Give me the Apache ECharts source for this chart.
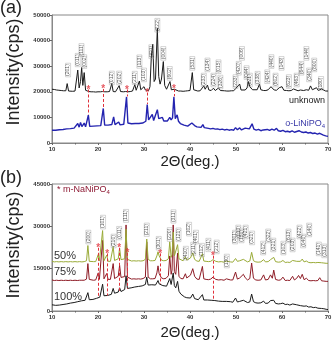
<!DOCTYPE html>
<html>
<head>
<meta charset="utf-8">
<script src="https://cdn.jsdelivr.net/npm/echarts@6/dist/echarts.min.js"></script>
<style>
  html, body { margin: 0; padding: 0; background: #fff; }
  #chart { width: 335px; height: 340px; }
</style>
</head>
<body>
<div id="chart"></div>
<script>
// ---- panel (a) data ----
var unknownPattern = [[10,21000],[10.5,20900],[11,20700],[11.5,20600],[12,20500],[12.5,20400],[13,20400],[13.3,23200],[13.6,20300],[14,20300],[14.5,20200],[15,20300],[15.3,21000],[15.6,28500],[15.9,21500],[16.2,24000],[16.45,29500],[16.7,22500],[17.0,27500],[17.3,20600],[17.7,20200],[18,20100],[18.5,20000],[19,20000],[19.5,19900],[20,20000],[20.5,20000],[21,20100],[21.5,20000],[22,20000],[22.5,20100],[23.0,23200],[23.3,20100],[23.8,20000],[24.2,20100],[24.6,22400],[24.9,20100],[25.5,20000],[26,20100],[26.5,20000],[27,20100],[27.5,20300],[28.0,22800],[28.3,20600],[28.7,21200],[29.0,24200],[29.3,20800],[29.7,20600],[30.0,22000],[30.3,20700],[30.7,20400],[31.0,20500],[31.3,22000],[31.6,34000],[31.9,38600],[32.2,24000],[32.5,25000],[32.9,44800],[33.2,26000],[33.5,23000],[33.8,25000],[34.2,31800],[34.5,22500],[34.9,21000],[35.3,21200],[35.65,24000],[35.95,20800],[36.3,20500],[36.6,21000],[37,20400],[37.5,20300],[38,20300],[38.5,20200],[39,20300],[39.5,20400],[40,20500],[40.5,27500],[40.8,20800],[41.2,20400],[41.7,20300],[42.2,20400],[42.6,20600],[43.0,22300],[43.3,21000],[43.8,22600],[44.1,20700],[44.6,20500],[45.1,21400],[45.5,20500],[46.2,21500],[46.6,20500],[47,20300],[47.5,20400],[48,20300],[48.5,20300],[49,20400],[49.5,20400],[49.9,21200],[50.2,20600],[50.8,23000],[51.1,20700],[51.5,20500],[52,20700],[52.4,21500],[52.7,24000],[53.0,22000],[53.3,22600],[53.6,20800],[54,20600],[54.6,20800],[55.1,23000],[55.4,20800],[56,20500],[56.5,20500],[57,20800],[57.6,22000],[57.9,21600],[58.3,20700],[58.8,20600],[59.4,21600],[59.7,21000],[60.0,22000],[60.4,20600],[61,20500],[61.5,20400],[62,20500],[62.5,21100],[62.9,20500],[63.5,20400],[64.0,20700],[64.3,21200],[64.7,20500],[65.3,20800],[65.8,20600],[66.2,22300],[66.6,20800],[67,20700],[67.5,21600],[67.9,20500],[68.6,21100],[69,20400],[69.5,20300],[70,20300]];

var liNiPO4Pattern = [[10,5000],[10.4,5300],[10.8,5000],[11.2,5400],[11.6,5200],[12,5500],[12.4,5300],[12.8,5700],[13.2,5500],[13.6,5900],[14,5600],[14.4,6000],[14.8,5800],[15.2,6200],[15.6,7600],[15.9,6200],[16.2,8000],[16.5,6400],[17.0,7800],[17.3,6300],[17.6,6500],[17.9,10900],[18.2,6500],[18.6,6300],[19,6600],[19.4,6400],[19.8,6700],[20.2,6500],[20.6,6800],[20.9,7500],[21.15,13500],[21.45,7000],[21.8,6700],[22.2,7000],[22.6,6800],[23.0,7200],[23.4,10200],[23.7,7200],[24.1,7000],[24.5,8200],[24.8,7100],[25.2,7000],[25.6,7300],[25.9,8000],[26.2,18000],[26.5,7800],[26.9,7300],[27.3,7500],[27.7,7200],[28.1,7600],[28.5,7300],[28.9,7600],[29.3,7400],[29.7,7800],[30.1,7600],[30.4,8500],[30.7,15000],[31.0,9000],[31.4,8500],[31.8,11200],[32.1,8800],[32.5,9300],[32.9,13000],[33.2,9500],[33.6,8800],[34.0,10000],[34.3,8600],[34.7,8300],[35.1,8600],[35.6,10000],[35.9,9000],[36.2,9800],[36.5,18000],[36.8,9500],[37.2,11000],[37.5,8500],[37.9,7600],[38.3,7300],[38.7,7000],[39.1,6800],[39.5,6600],[39.9,6800],[40.4,7800],[40.7,8000],[41.0,6800],[41.5,6300],[41.9,6000],[42.4,6100],[42.8,7200],[43.1,6000],[43.5,5800],[44,5700],[44.5,5500],[45,5700],[45.5,5400],[46,5500],[46.5,5200],[47,5400],[47.5,5100],[48,5300],[48.5,5000],[49,5200],[49.5,5000],[49.9,6000],[50.3,5200],[50.8,5900],[51.2,5100],[51.6,5400],[52.0,5800],[52.4,5200],[52.9,5500],[53.5,7500],[53.9,5400],[54.4,5000],[54.9,5300],[55.4,4800],[55.9,5100],[56.3,4700],[56.8,5300],[57.3,4900],[57.8,5400],[58.3,5000],[58.8,5700],[59.2,4800],[59.7,4600],[60.2,4900],[60.7,4400],[61.2,4600],[61.7,4300],[62.2,4700],[62.7,4200],[63.2,4500],[63.7,4800],[64.2,4300],[64.7,4100],[65.2,4300],[65.7,3900],[66.2,4100],[66.7,3700],[67.2,3900],[67.7,3500],[68.2,3800],[68.6,3300],[69,3100],[69.5,2800],[70,2600]];

var aHklX = [13.5,15.6,16.4,17.0,23.0,24.6,28.0,29.0,30.0,31.6,32.9,34.2,35.6,40.5,43.0,43.8,45.1,46.2,46.6,49.9,50.6,51.3,52.3,53.0,54.7,56.8,57.7,58.6,59.9,61.5,63.2,64.2,65.3,65.9,67.0,68.5];
var aHklY = [28500,32400,36300,31800,25400,25400,25400,31800,26600,35700,46000,35000,27200,31100,24600,30500,24600,29800,23800,24000,29200,35000,27500,24600,25300,25900,31800,24600,31100,24000,24600,29200,35000,26600,30500,23300];
var aHklText = ['(201)','(011)','(111)','(002)','(012)','(202)','(211)','(113)','(103)','(321)','(222)','(004)','(602)','(531)','(233)','(134)','(224)','(015)','(326)','(233)','(420)','(006)','(044)','(621)','(338)','(424)','(440)','(602)','(143)','(623)','(463)','(644)','(144)','(340)','(800)','(180)'];

var aStarX = [17.9,21.15,26.3,30.7,36.5];
var aStarY = [21800,22000,21800,20600,22000];
var aDashBottom = [11000,13600,18200,15200,18200];

// ---- panel (b) data ----
var pattern50 = [[10,17600],[10.5,17400],[11,17500],[11.5,17400],[12,17500],[12.5,17400],[13,17500],[13.5,17400],[14,17500],[14.5,17400],[15,17500],[15.5,17400],[16,17500],[16.5,17400],[17,17500],[17.5,17800],[17.8,23200],[18.1,17600],[18.5,17400],[19,17500],[19.5,17500],[19.8,17800],[20.05,20000],[20.3,17700],[20.7,17700],[21.0,28500],[21.3,17800],[21.6,17600],[21.9,19800],[22.2,17600],[22.7,17600],[23.0,17900],[23.3,22800],[23.6,17900],[24.0,17800],[24.4,18500],[24.7,22300],[25.0,18200],[25.4,17900],[25.8,18500],[26.1,29000],[26.4,18300],[26.8,17800],[27.3,17700],[27.8,17800],[28.3,17700],[28.8,17800],[29.3,17700],[29.8,17800],[30.3,18300],[30.6,25500],[30.9,18300],[31.4,17800],[31.9,17800],[32.4,17900],[32.8,19500],[33.05,21000],[33.3,19500],[33.5,20000],[33.8,18000],[34.3,17800],[34.8,17900],[35.3,18500],[35.6,24500],[35.9,19000],[36.1,20000],[36.35,28000],[36.6,19500],[36.9,18800],[37.3,23500],[37.6,18500],[38.0,17900],[38.5,17800],[39.0,19200],[39.3,18000],[39.7,17800],[40.1,18800],[40.6,20600],[41.0,18300],[41.5,17700],[42.0,17600],[42.4,17700],[42.7,20300],[43.0,17700],[43.5,17600],[44.0,17500],[44.5,17600],[45.0,18200],[45.3,18800],[45.6,17600],[46.2,17400],[46.8,17500],[47.4,17300],[47.9,17700],[48.3,17300],[48.8,17400],[49.3,17300],[49.9,18600],[50.3,17600],[50.8,17800],[51.2,17400],[51.6,18300],[52.0,17900],[52.5,17400],[53.0,17700],[53.4,20800],[53.8,17800],[54.3,17400],[54.8,17300],[55.4,17400],[56.0,18200],[56.4,17400],[57.0,17500],[57.5,18200],[57.9,17700],[58.2,19000],[58.6,17500],[59.2,17300],[59.7,17400],[60.2,17900],[60.7,17200],[61.2,17300],[61.7,17200],[62.3,17900],[62.7,17300],[63.2,17600],[63.6,18100],[64.0,17600],[64.4,18400],[64.8,17400],[65.3,17700],[65.8,17200],[66.3,17100],[66.8,17200],[67.3,17100],[67.8,17200],[68.2,17700],[68.6,17100],[69.1,17000],[69.6,16900],[70,16900]];

var pattern75 = [[10,11000],[10.5,10800],[11,10900],[11.5,10800],[12,10900],[12.5,10800],[13,10900],[13.5,10800],[14,10900],[14.5,10800],[15,10900],[15.5,10800],[16,10900],[16.5,10900],[17,10900],[17.5,11300],[17.8,16800],[18.1,11200],[18.5,10900],[19,10900],[19.5,11000],[19.8,11200],[20.05,13500],[20.3,11200],[20.7,11300],[21.0,25000],[21.3,11400],[21.6,11200],[21.9,13300],[22.2,11200],[22.7,11200],[23.0,11500],[23.3,16800],[23.6,11500],[24.0,11400],[24.4,12300],[24.7,16200],[25.0,11900],[25.4,11500],[25.8,12200],[26.1,30500],[26.4,12000],[26.8,11400],[27.3,11300],[27.8,11400],[28.3,11300],[28.8,11400],[29.3,11300],[29.8,11500],[30.3,12000],[30.6,24500],[30.9,12000],[31.4,11400],[31.9,11400],[32.4,11500],[32.8,13500],[33.05,16000],[33.3,13200],[33.5,13800],[33.8,11700],[34.3,11400],[34.8,11600],[35.3,12500],[35.6,19500],[35.9,13000],[36.1,14500],[36.35,30500],[36.6,14000],[36.9,13000],[37.3,20500],[37.6,12300],[38.0,11500],[38.5,11400],[39.0,13200],[39.3,11700],[39.7,11400],[40.1,12700],[40.6,15000],[41.0,12300],[41.5,11300],[42.0,11200],[42.4,11400],[42.7,15800],[43.0,11400],[43.5,11200],[44.0,11100],[44.5,11300],[45.0,12000],[45.3,12600],[45.6,11200],[46.2,11000],[46.8,11100],[47.4,10900],[47.9,11400],[48.3,10900],[48.8,11000],[49.3,11000],[49.9,13800],[50.3,11300],[50.8,11700],[51.2,11100],[51.6,13000],[52.0,11800],[52.5,11000],[53.0,11500],[53.4,17000],[53.8,11600],[54.3,11000],[54.8,10900],[55.4,11000],[56.0,12800],[56.4,11000],[57.0,11200],[57.5,12800],[57.9,11600],[58.2,14500],[58.6,11200],[59.2,10900],[59.7,11000],[60.2,12000],[60.7,10800],[61.2,10900],[61.7,10800],[62.3,12300],[62.7,11000],[63.2,11600],[63.6,12600],[64.0,11500],[64.4,13000],[64.8,11100],[65.3,11600],[65.8,10800],[66.3,10700],[66.8,10800],[67.3,10700],[67.8,10800],[68.2,11800],[68.6,10700],[69.1,10600],[69.6,10500],[70,10500]];

var pattern100 = [[10,2200],[10.4,1800],[10.8,2000],[11.2,1700],[11.6,2100],[12,1900],[12.4,2300],[12.8,2100],[13.2,2500],[13.6,2400],[14,2800],[14.4,2600],[14.8,3000],[15.2,2900],[15.6,3300],[16,3100],[16.4,3600],[16.8,3400],[17.2,3800],[17.5,3700],[17.8,6500],[18.1,4000],[18.5,4300],[18.9,4100],[19.3,4600],[19.7,4500],[20.05,5200],[20.4,4900],[20.7,5200],[21.0,9500],[21.3,5400],[21.7,5600],[22.1,5500],[22.5,6000],[22.9,5900],[23.3,8000],[23.6,6300],[24.0,6400],[24.4,6700],[24.7,8200],[25.0,6900],[25.4,7200],[25.8,7600],[26.1,12500],[26.4,8000],[26.8,7800],[27.2,8200],[27.6,8100],[28.0,8500],[28.4,8300],[28.8,8700],[29.2,8600],[29.6,8900],[30.0,8800],[30.3,9400],[30.6,12000],[30.9,9200],[31.3,9000],[31.7,9300],[32.1,9000],[32.5,9200],[32.8,9800],[33.05,10800],[33.3,9600],[33.7,9300],[34.1,9000],[34.5,9200],[34.9,8800],[35.3,9200],[35.6,11500],[35.9,9400],[36.1,9800],[36.35,13500],[36.6,9000],[36.9,8200],[37.3,10500],[37.6,7000],[38.0,6000],[38.4,5400],[38.8,5000],[39.0,5500],[39.3,4700],[39.7,4500],[40.1,4600],[40.6,6000],[41.0,4400],[41.4,4200],[41.8,4000],[42.2,4100],[42.7,5800],[43.0,3900],[43.4,3800],[43.8,3900],[44.2,3600],[44.6,3800],[45.0,3600],[45.4,3700],[45.8,3400],[46.2,3500],[46.6,3300],[47.0,3400],[47.4,3200],[47.9,3400],[48.3,3100],[48.8,3300],[49.3,3100],[49.9,4600],[50.3,3200],[50.8,3400],[51.2,3000],[51.6,3800],[52.0,3100],[52.5,3000],[53.0,3200],[53.4,6000],[53.8,3300],[54.3,2900],[54.8,2800],[55.4,2900],[56.0,3500],[56.4,2700],[57.0,2800],[57.5,3700],[57.9,3000],[58.2,3800],[58.6,2700],[59.2,2500],[59.7,2600],[60.2,2800],[60.7,2300],[61.2,2400],[61.7,2100],[62.3,2500],[62.7,2000],[63.2,2200],[63.6,2300],[64.0,1900],[64.4,2100],[64.8,1700],[65.3,1800],[65.8,1400],[66.3,1500],[66.8,1200],[67.3,1300],[67.8,1000],[68.2,1400],[68.6,900],[69.1,800],[69.6,600],[70,500]];

var bHklX = [17.9,21.1,23.4,24.6,26.1,30.6,33.2,35.6,36.4,37.5,39.1,39.8,40.7,41.3,42.6,44.0,45.8,48.0,49.8,50.5,51.2,52.1,53.5,55.9,57.0,58.1,60.3,61.4,62.3,63.8,64.6,65.9,68.0,69.2];
var bHklY = [26200,31500,24800,27600,33700,28800,24000,27100,33500,27000,20500,29000,22000,26200,21600,23400,22700,17700,26200,28000,26600,28000,25900,22300,26600,23400,22300,26600,23400,28000,24800,28700,22000,21300];
var bHklText = ['(200)','(101)','(210)','(011)','(111)','(211)','(301)','(220)','(311)','(121)','(410)','(102)','(211)','(401)','(112)','(411)','(212)','(130)','(301)','(013)','(131)','(421)','(321)','(412)','(322)','(321)','(103)','(613)','(203)','(422)','(040)','(140)','(141)','(313)'];

var bStarX = [20.05,22.0,24.6,26.4,33.5,45.0];
var bStarY = [23300,21300,23300,21500,21300,20500];
var bDashBottom = [5200,5500,6700,7900,9600,3800];

var FONT = '"Liberation Sans", Arial, sans-serif';

function extend(t) {
    for (var i = 1; i < arguments.length; i++) {
        for (var k in arguments[i]) t[k] = arguments[i][k];
    }
    return t;
}

function hklSeries(xi, xs, ys, texts) {
    return {
        type: 'scatter',
        xAxisIndex: xi, yAxisIndex: xi,
        symbol: 'circle', symbolSize: 1,
        itemStyle: { color: 'transparent' },
        silent: true, z: 5,
        data: xs.map(function (x, i) { return { value: [x, ys[i]], name: texts[i] }; }),
        label: {
            show: true, position: 'inside', rotate: 90,
            formatter: '{b}', fontSize: 5, fontFamily: FONT, color: '#333',
            borderColor: '#999', borderWidth: 0.5, padding: [0, 1, 0, 1]
        }
    };
}

function starSeries(xi, xs, ys, bottoms) {
    return {
        type: 'scatter',
        xAxisIndex: xi, yAxisIndex: xi,
        symbol: 'circle', symbolSize: 1,
        itemStyle: { color: 'transparent' },
        silent: true, z: 6,
        data: xs.map(function (x, i) { return [x, ys[i]]; }),
        label: {
            show: true, position: 'inside', formatter: '*', offset: [0, 3],
            fontSize: 10, fontWeight: 'bold', color: '#e0303a', fontFamily: FONT
        },
        markLine: {
            silent: true, symbol: ['none', 'none'], animation: false,
            label: { show: false },
            lineStyle: { color: '#e0303a', type: [3, 2], width: 1 },
            data: xs.map(function (x, i) {
                return [{ coord: [x, ys[i] - 900] }, { coord: [x, bottoms[i]] }];
            })
        }
    };
}

function patternSeries(xi, data, color, width) {
    return {
        type: 'line', xAxisIndex: xi, yAxisIndex: xi,
        data: data, showSymbol: false, symbol: 'none',
        lineStyle: { color: color, width: width }, z: 3, animation: false
    };
}

var axisCommon = {
    axisLine: { show: true, lineStyle: { color: '#888', width: 1 } },
    splitLine: { show: false },
    axisTick: { show: true, length: 2, lineStyle: { color: '#666' } }
};
var tickFont = { fontSize: 6, fontWeight: 'bold', color: '#333', fontFamily: FONT,
                 formatter: function (v) { return String(v); } };

function xAxisOf(gi) {
    return extend({}, axisCommon, {
        type: 'value', gridIndex: gi, min: 10, max: 70, interval: 10,
        minorTick: { show: true, splitNumber: 2, length: 1.5, lineStyle: { color: '#666' } },
        axisLabel: extend({ margin: 3 }, tickFont)
    });
}
function yAxisOf(gi, max, interval) {
    return extend({}, axisCommon, {
        type: 'value', gridIndex: gi, min: 0, max: max, interval: interval,
        axisLabel: extend({ margin: 2 }, tickFont)
    });
}

function txt(x, y, text, size, color, align, rot) {
    return {
        type: 'text', x: x, y: y, rotation: rot || 0, silent: true,
        style: { text: text, fontSize: size, fontFamily: FONT, fill: color,
                 textAlign: align || 'left', textVerticalAlign: 'middle' }
    };
}

function subText(x, y, main, sub, color, align) {
    return {
        type: 'text', x: x, y: y, silent: true,
        style: {
            text: '{a|' + main + '}{s|' + sub + '}', textAlign: align, textVerticalAlign: 'middle',
            rich: {
                a: { fontSize: 9, fontFamily: FONT, fill: color, color: color },
                s: { fontSize: 6, fontFamily: FONT, fill: color, color: color, padding: [4, 0, 0, 0] }
            }
        }
    };
}

var chart = echarts.init(document.getElementById('chart'), null, { renderer: 'canvas' });
chart.setOption({
    animation: false,
    backgroundColor: '#fff',
    grid: [
        { left: 52, top: 15, width: 276, height: 128, show: true, borderColor: '#888', borderWidth: 1 },
        { left: 52, top: 184, width: 276, height: 127, show: true, borderColor: '#888', borderWidth: 1 }
    ],
    xAxis: [xAxisOf(0), xAxisOf(1)],
    yAxis: [yAxisOf(0, 50000, 10000), yAxisOf(1, 45000, 15000)],
    series: [
        patternSeries(0, liNiPO4Pattern, '#2424b0', 1.4),
        patternSeries(0, unknownPattern, '#1a1a1a', 1),
        hklSeries(0, aHklX, aHklY, aHklText),
        starSeries(0, aStarX, aStarY, aDashBottom),
        patternSeries(1, pattern100, '#1a1a1a', 1),
        patternSeries(1, pattern75, '#8e1b25', 1),
        patternSeries(1, pattern50, '#9aab38', 1),
        hklSeries(1, bHklX, bHklY, bHklText),
        starSeries(1, bStarX, bStarY, bDashBottom)
    ],
    graphic: [
        txt(0, 8, '(a)', 18, '#222'),
        txt(0, 178, '(b)', 18, '#222'),
        txt(14, 72, 'Intensity(cps)', 18, '#222', 'center', Math.PI / 2),
        txt(14, 245, 'Intensity(cps)', 18, '#222', 'center', Math.PI / 2),
        txt(190, 162, '2\u0398(deg.)', 15, '#222', 'center'),
        txt(190, 333, '2\u0398(deg.)', 15, '#222', 'center'),
        txt(325, 101, 'unknown', 9, '#222', 'right'),
        subText(325, 124, 'o-LiNiPO', '4', '#3a3aa8', 'right'),
        subText(57, 190, '* m-NaNiPO', '4', '#8e1b35', 'left'),
        txt(54, 256, '50%', 11, '#333'),
        txt(54, 272, '75%', 11, '#333'),
        txt(54, 297, '100%', 11, '#333')
    ]
});
</script>
</body>
</html>
